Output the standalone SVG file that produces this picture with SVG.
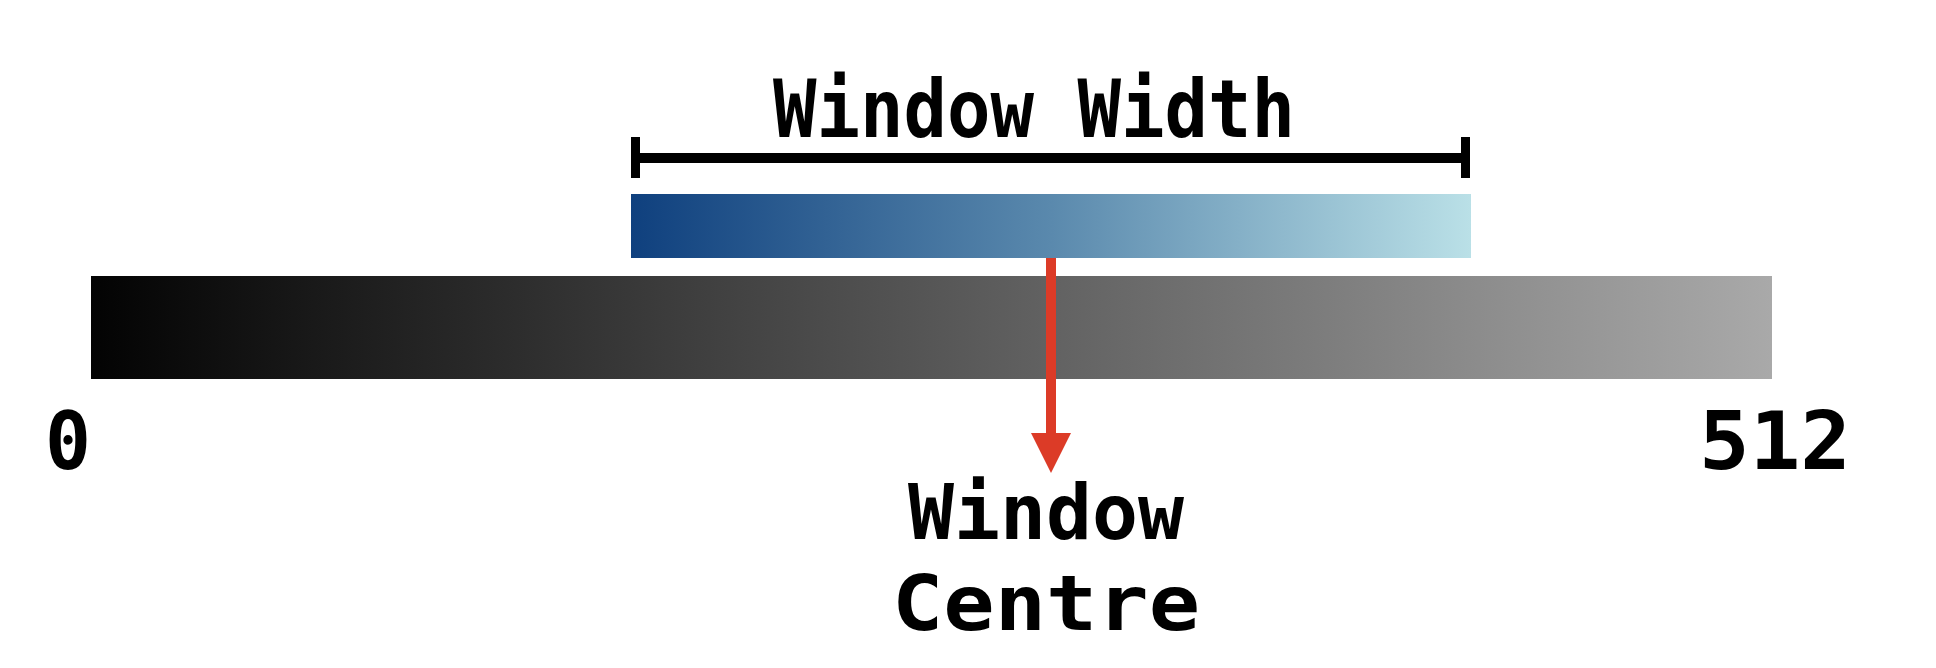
<svg xmlns="http://www.w3.org/2000/svg" width="1936" height="668" viewBox="0 0 1936 668">
  <style>
    .lbl { font-family: "DejaVu Sans Mono", "Liberation Mono", monospace; font-size: 80px; font-weight: bold; fill: #000; }
    .lbl2 { font-family: "DejaVu Sans Mono", "Liberation Mono", monospace; font-size: 77px; font-weight: bold; fill: #000; }
  </style>
  <defs>
    <linearGradient id="grayGrad" x1="0" y1="0" x2="1" y2="0">
      <stop offset="0" stop-color="#030303"/>
      <stop offset="1" stop-color="#a9a9a9"/>
    </linearGradient>
    <linearGradient id="blueGrad" x1="0" y1="0" x2="1" y2="0">
      <stop offset="0" stop-color="#0f407e"/>
      <stop offset="0.5" stop-color="#5a89ad"/>
      <stop offset="1" stop-color="#bae0e7"/>
    </linearGradient>
    <marker id="arrowHead" viewBox="0 0 40 40" refX="0" refY="20" markerWidth="40" markerHeight="40" markerUnits="userSpaceOnUse" orient="auto">
      <path d="M0,0 L40,20 L0,40 Z" fill="#dc3b27"/>
    </marker>
  </defs>

  <g id="full-range-bar">
    <rect x="91" y="276" width="1681" height="103" fill="url(#grayGrad)"/>
  </g>

  <g id="window-bar">
    <rect x="631" y="194" width="840" height="64" fill="url(#blueGrad)"/>
  </g>

  <g id="window-width-bracket">
    <rect x="631" y="153" width="839" height="10" fill="#000"/>
    <rect x="631" y="137" width="9" height="41" fill="#000"/>
    <rect x="1461" y="137" width="9" height="41" fill="#000"/>
  </g>

  <g id="label-window-width">
    <text class="lbl" x="1034" y="137" text-anchor="middle" textLength="522" lengthAdjust="spacingAndGlyphs">Window Width</text>
  </g>

  <g id="label-zero">
    <text class="lbl" x="68" y="469" text-anchor="middle" textLength="46" lengthAdjust="spacingAndGlyphs">0</text>
  </g>

  <g id="label-max">
    <text class="lbl" x="1775" y="469" text-anchor="middle" textLength="152" lengthAdjust="spacingAndGlyphs">512</text>
  </g>

  <g id="label-window-centre">
    <text class="lbl2" x="1046" y="539" text-anchor="middle" textLength="276" lengthAdjust="spacingAndGlyphs">Window</text>
    <text class="lbl2" x="1046" y="630" text-anchor="middle" textLength="308" lengthAdjust="spacingAndGlyphs">Centre</text>
  </g>

  <g id="connectors">
    <line x1="1051" y1="258" x2="1051" y2="433" stroke="#dc3b27" stroke-width="10" marker-end="url(#arrowHead)"/>
  </g>
</svg>
